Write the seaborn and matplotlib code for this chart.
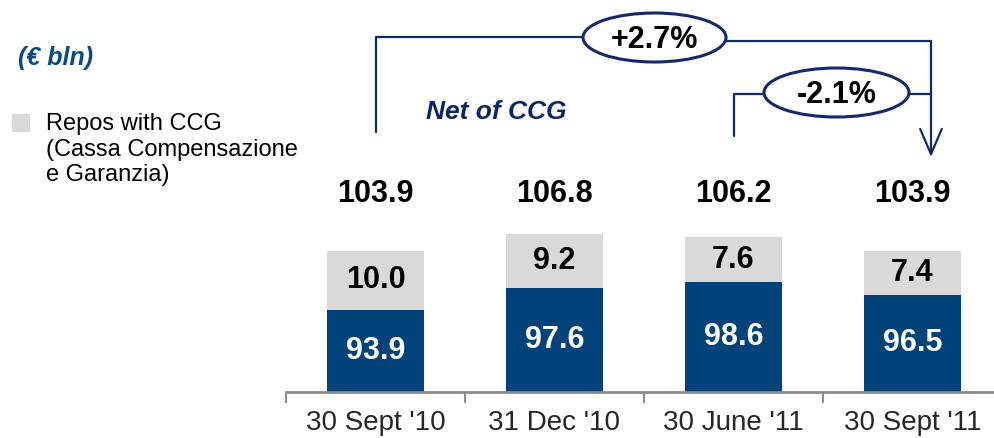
import matplotlib
matplotlib.use("Agg")
import matplotlib.pyplot as plt
from matplotlib.patches import Ellipse, Rectangle
import pandas as pd
import seaborn as sns

# data
periods = ["30 Sept '10", "31 Dec '10", "30 June '11", "30 Sept '11"]
net_of_ccg = [93.9, 97.6, 98.6, 96.5]
repos_ccg = [10.0, 9.2, 7.6, 7.4]
totals = [103.9, 106.8, 106.2, 103.9]
change_labels = ["+2.7%", "-2.1%"]

NAVY = "#00437a"
GRAY = "#d9d9d9"
LINE = "#13296b"
TXT_BLUE = "#0b2468"

sns.set_style("white")
plt.rcParams["font.family"] = ["Liberation Sans", "DejaVu Sans"]

W, H = 994, 438
fig = plt.figure(figsize=(W / 100, H / 100), dpi=100)

# axes placed in pixel terms: baseline at y=392, left edge x=286
px_per_unit = 5.9
ax = fig.add_axes([286 / W, (H - 392) / H, (W - 286) / W, 392 / H])

df = pd.DataFrame({"period": periods, "net": net_of_ccg, "repos": repos_ccg})
df["total"] = df["net"] + df["repos"]

sns.barplot(data=df, x="period", y="total", color=GRAY, width=0.54,
            saturation=1, ax=ax, linewidth=0)
sns.barplot(data=df, x="period", y="net", color=NAVY, width=0.54,
            saturation=1, ax=ax, linewidth=0)

ymin = 80.0
ax.set_ylim(ymin, ymin + 392 / px_per_unit)
ax.set_xlim(-0.5, -0.5 + (W - 286) / 179)

# value labels
for i, (n, r, t) in enumerate(zip(net_of_ccg, repos_ccg, totals)):
    ax.text(i, (ymin + n) / 2, f"{n:.1f}", ha="center", va="center",
            color="white", fontsize=22, fontweight="bold")
    ax.text(i, n + r / 2, f"{r:.1f}", ha="center", va="center",
            color="black", fontsize=22, fontweight="bold")
    ax.text(i, 113.6, f"{t:.1f}", ha="center", va="center",
            color="black", fontsize=22, fontweight="bold")

# axis styling
for s in ["left", "top", "right"]:
    ax.spines[s].set_visible(False)
ax.spines["bottom"].set_color("#8c8c8c")
ax.spines["bottom"].set_linewidth(2)
ax.set_yticks([])
ax.set_xlabel("")
ax.set_ylabel("")
ax.set_xticks(range(len(periods)))
ax.set_xticklabels(periods, fontsize=20)
ax.tick_params(axis="x", which="major", length=0, pad=13)
ax.set_xticks([-0.5, 0.5, 1.5, 2.5], minor=True)
ax.tick_params(axis="x", which="minor", bottom=True, length=8, width=1.5,
               color="#8c8c8c", direction="out")


def py(y):
    # pixel row -> data value
    return ymin + (392 - y) / px_per_unit


def pxx(x):
    return (x - 375.5) / 179


# bracket 1: 30 Sept '10 -> 30 Sept '11
xr = pxx(931)
ax.plot([0, 0, pxx(583)], [py(132), py(37), py(37)], color=LINE, lw=1.6,
        clip_on=False)
ax.plot([pxx(726), xr], [py(41), py(41)], color=LINE, lw=1.6, clip_on=False)
ax.annotate("", xy=(xr, py(157)), xytext=(xr, py(41.5)),
            arrowprops=dict(arrowstyle="->,head_length=0.7,head_width=0.3",
                            color=LINE, lw=1.6, mutation_scale=26,
                            shrinkA=0, shrinkB=0), annotation_clip=False)
ax.add_patch(Ellipse((pxx(654.5), py(37.5)), 143 / 179, 49 / px_per_unit,
                     facecolor="white", edgecolor=LINE, lw=2.2, zorder=5,
                     clip_on=False))
ax.text(pxx(654.5), py(40), change_labels[0], ha="center", va="center",
        fontsize=22, fontweight="bold", color="black", zorder=6)

# bracket 2: 30 June '11 -> 30 Sept '11
ax.plot([2, 2, pxx(764)], [py(136), py(94), py(94)], color=LINE, lw=1.6,
        clip_on=False)
ax.plot([pxx(909), xr], [py(94), py(94)], color=LINE, lw=1.6, clip_on=False)
ax.add_patch(Ellipse((pxx(836.5), py(92.5)), 145 / 179, 49 / px_per_unit,
                     facecolor="white", edgecolor=LINE, lw=2.2, zorder=5,
                     clip_on=False))
ax.text(pxx(836.5), py(95), change_labels[1], ha="center", va="center",
        fontsize=22, fontweight="bold", color="black", zorder=6)

ax.text(pxx(496), py(112), "Net of CCG", ha="center", va="center",
        fontsize=19, fontweight="bold", fontstyle="italic", color=TXT_BLUE)

# left side texts and legend
fig.text(18 / W, 1 - 58 / H, "(€ bln)", ha="left", va="center", fontsize=18,
         fontweight="bold", fontstyle="italic", color="#0a4a85")
fig.patches.append(Rectangle((12 / W, 1 - 132 / H), 18 / W, 18 / H,
                             transform=fig.transFigure, facecolor=GRAY,
                             edgecolor="none"))
fig.text(46 / W, 1 - 113 / H,
         "Repos with CCG\n(Cassa Compensazione\ne Garanzia)",
         ha="left", va="top", fontsize=17, linespacing=1.22, color="black")

fig.savefig("out.png", dpi=100)
